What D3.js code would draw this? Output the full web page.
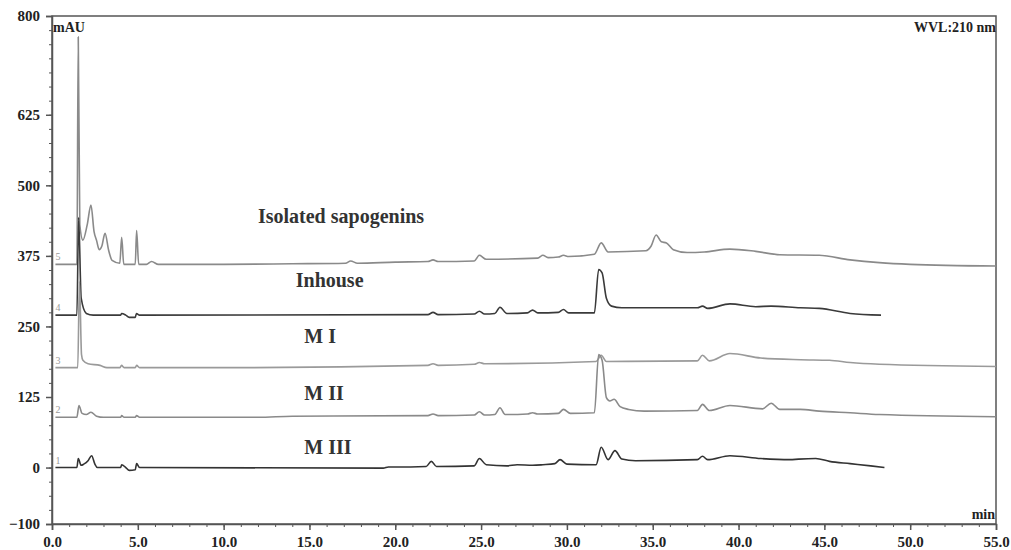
<!DOCTYPE html>
<html lang="en">

<head>
  <meta charset="UTF-8" />
  <title>HPLC chromatograms</title>
  <style>
    body { margin: 0; background: white; }
    text { font-family: "Liberation Serif", "Times New Roman", serif; }
  </style>
</head>

<body>
  <svg id="chart" width="1011" height="550"></svg>

  <script src="https://d3js.org/d3.v7.min.js"></script>

  <script>
    // retention time (min), absorbance (mAU)
    const sapogenins = [[0.2,360],[1.45,360],[1.53,763],[1.62,430],[1.8,403],[2.05,430],[2.27,465],[2.45,418],[2.6,402],[2.75,386],[2.9,392],[3.09,415],[3.3,385],[3.5,367],[3.95,362],[4.06,408],[4.18,360],[4.85,360],[4.93,420],[5.05,360],[5.5,360],[5.8,365],[6.2,360],[10,360],[14,361],[17.1,362],[17.4,366],[17.8,362],[20,364],[21.9,365],[22.2,368],[22.5,365],[24.6,366],[24.9,376],[25.3,369],[28.3,371],[28.6,376],[28.9,372],[29.5,373],[29.8,376],[30.1,374],[31.6,378],[32,398],[32.4,382],[34.6,384],[34.9,392],[35.2,412],[35.5,400],[35.8,398],[36.2,386],[37,381],[38,382],[39.5,387],[41,383],[42.4,377],[44.7,376],[46.5,368],[48.2,363],[50,360],[55,357]];
    const inhouse = [[0.2,270],[1.45,270],[1.55,443],[1.7,300],[2,273],[2.4,270],[4,270],[4.06,273],[4.3,270],[4.5,266],[4.85,266],[4.92,273],[5.1,270],[21.9,271],[22.2,275],[22.5,271],[24.6,272],[24.9,277],[25.2,272],[25.8,273],[26.1,284],[26.5,273],[27.7,274],[28,279],[28.3,274],[29.5,275],[29.8,280],[30.1,274],[31.6,274],[31.85,351],[32.05,345],[32.3,300],[32.6,286],[33.2,283],[37.6,283],[37.9,286],[38.2,282],[39.5,290],[41,285],[41.9,286],[43.6,283],[44.7,282],[46.5,273],[48.3,270]];
    const mI = [[0.2,177],[1.5,177],[1.6,330],[1.72,200],[1.8,190],[2.1,184],[2.8,181],[3.2,177],[3.95,177],[4.05,181],[4.2,177],[4.85,177],[4.93,181],[5.1,177],[10,177],[21.9,181],[22.2,184],[22.5,181],[24.6,183],[24.9,186],[25.2,184],[31.7,188],[32,199],[32.3,188],[37.6,189],[37.9,199],[38.3,189],[39.5,202],[41.3,194],[43.6,191],[45.3,190],[46.5,186],[48.2,183],[55,179]];
    const mII = [[0.2,89],[1.45,89],[1.57,110],[1.75,96],[2,94],[2.27,98],[2.6,91],[3,89],[4,89],[4.06,92],[4.2,89],[4.85,89],[4.93,92],[5.1,89],[12,89],[14,91],[21.9,92],[22.2,95],[22.5,92],[24.6,93],[24.9,99],[25.2,93],[25.8,94],[26.1,106],[26.4,94],[27.7,95],[28,97],[28.3,95],[29.5,96],[29.8,103],[30.2,96],[31.6,97],[31.85,200],[32.05,190],[32.3,124],[32.5,118],[32.75,121],[33.1,108],[33.6,103],[34.5,100],[37.6,101],[37.9,112],[38.3,101],[39.5,110],[41.4,104],[41.9,114],[42.4,103],[43.6,103],[44.7,100],[46.5,97],[48.2,94],[55,90]];
    const mIII = [[0.2,0],[1.45,0],[1.53,16],[1.7,4],[1.85,6],[2.1,12],[2.31,21],[2.5,6],[2.65,0],[4,0],[4.06,5],[4.3,0],[4.5,-5],[4.85,-4],[4.93,7],[5.1,0],[19.3,-1],[19.6,1],[20,1],[21.8,2],[22.1,11],[22.4,2],[24.6,3],[24.9,16],[25.3,5],[26.5,3],[27.1,5],[28,4],[28.6,5],[29.3,7],[29.6,14],[30,6],[31.7,5],[32,36],[32.4,14],[32.8,30],[33.2,15],[34,12],[37.6,14],[37.9,20],[38.2,14],[39.5,21],[41.3,16],[43,14],[43.5,15],[44.5,16],[45.3,11],[46.5,7],[47.7,3],[48.5,0]];

    const traceNames = ["Isolated sapogenins", "Inhouse", "M I", "M II", "M III"];
    const traceNumbers = ["5", "4", "3", "2", "1"];
    const traceData = [sapogenins, inhouse, mI, mII, mIII];
    const traceColors = ["#8a8a8a", "#3a3a3a", "#9a9a9a", "#8a8a8a", "#333333"];
    // where the name sits: [time, mAU]
    const labelAt = [[12.0, 433], [14.2, 320], [14.7, 220], [14.7, 120], [14.7, 24]];

    const yTicks = [-100, 0, 125, 250, 375, 500, 625, 800];
    const xTicks = d3.range(0, 55.1, 5);

    const svg = d3.select("#chart");

    const x = d3.scaleLinear().domain([0, 55]).range([52, 996]);
    const y = d3.scaleLinear().domain([-100, 800]).range([524, 16]);

    // frame
    svg.append("rect")
      .attr("x", x(0)).attr("y", y(800))
      .attr("width", x(55) - x(0)).attr("height", y(-100) - y(800))
      .attr("fill", "none").attr("stroke", "#555").attr("stroke-width", 1.5);

    // minor ticks
    svg.append("g")
      .attr("transform", `translate(${x(0)},0)`)
      .call(d3.axisLeft(y).tickValues(d3.range(-100, 801, 25)).tickSize(3).tickFormat(""))
      .call(g => g.select(".domain").remove())
      .selectAll("line").attr("stroke", "#555");
    svg.append("g")
      .attr("transform", `translate(0,${y(-100)})`)
      .call(d3.axisBottom(x).tickValues(d3.range(0, 55.1, 1)).tickSize(3).tickFormat(""))
      .call(g => g.select(".domain").remove())
      .selectAll("line").attr("stroke", "#555");

    const yAxis = svg.append("g")
      .attr("transform", `translate(${x(0)},0)`)
      .call(d3.axisLeft(y).tickValues(yTicks).tickSize(6).tickPadding(6).tickFormat(d3.format("d")));
    const xAxis = svg.append("g")
      .attr("transform", `translate(0,${y(-100)})`)
      .call(d3.axisBottom(x).tickValues(xTicks).tickSize(6).tickPadding(6).tickFormat(d3.format(".1f")));

    [yAxis, xAxis].forEach(a => {
      a.select(".domain").attr("stroke", "#555").attr("stroke-width", 1.5);
      a.selectAll("line").attr("stroke", "#555").attr("stroke-width", 1.5);
      a.selectAll("text")
        .style("font-family", '"Liberation Serif", serif')
        .attr("font-size", 15).attr("font-weight", "bold").attr("fill", "#222");
    });

    const line = d3.line().curve(d3.curveMonotoneX).x(d => x(d[0])).y(d => y(d[1]));

    svg.append("g").selectAll("path")
      .data(traceData)
      .enter()
      .append("path")
      .attr("d", line)
      .attr("fill", "none")
      .attr("stroke", (d, i) => traceColors[i])
      .attr("stroke-width", 1.6)
      .attr("stroke-linejoin", "round");

    // small trace numbers at the left
    svg.append("g").selectAll("text")
      .data(traceData)
      .enter()
      .append("text")
      .attr("x", x(0.2))
      .attr("y", d => y(d[0][1]) - 4)
      .attr("font-size", 10)
      .attr("fill", "#999")
      .text((d, i) => traceNumbers[i]);

    svg.append("g").selectAll("text")
      .data(traceNames)
      .enter()
      .append("text")
      .attr("x", (d, i) => x(labelAt[i][0]))
      .attr("y", (d, i) => y(labelAt[i][1]))
      .attr("font-size", 20)
      .attr("font-weight", "bold")
      .attr("fill", "#333")
      .text(d => d);

    svg.append("text").attr("x", 53).attr("y", 32)
      .attr("font-size", 14).attr("font-weight", "bold").attr("fill", "#222")
      .text("mAU");
    svg.append("text").attr("x", 996).attr("y", 32).attr("text-anchor", "end")
      .attr("font-size", 14).attr("font-weight", "bold").attr("fill", "#222")
      .text("WVL:210 nm");
    svg.append("text").attr("x", 995).attr("y", 519).attr("text-anchor", "end")
      .attr("font-size", 14).attr("font-weight", "bold").attr("fill", "#222")
      .text("min");
  </script>
</body>

</html>
